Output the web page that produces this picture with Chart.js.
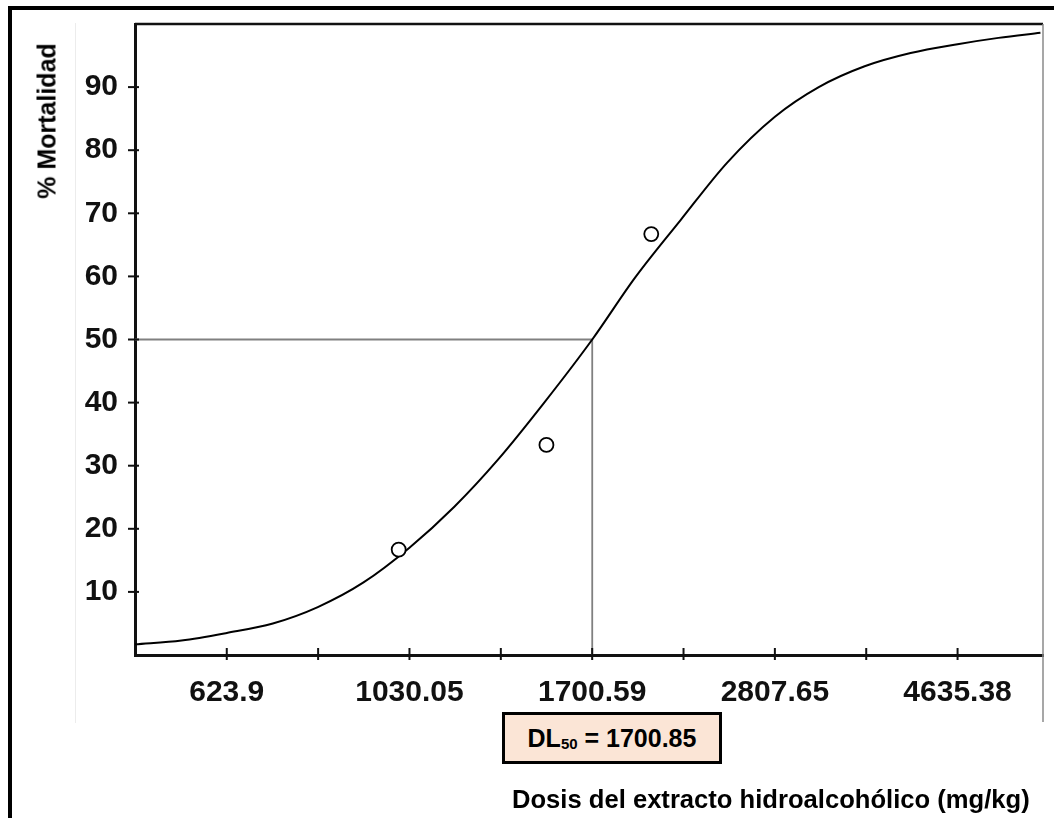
<!DOCTYPE html>
<html>
<head>
<meta charset="utf-8">
<script src="https://cdn.jsdelivr.net/npm/chart.js@4"></script>
<style>
  body { margin: 0; background: #fff; }
  #wrap { position: relative; width: 1054px; height: 818px; overflow: hidden; font-family: "Liberation Sans", Arial, sans-serif; }
  #box { position: absolute; left: 0; top: 0; width: 1054px; height: 818px; }
  .line { position: absolute; background: #000; }
  #ytitle { position: absolute; left: 47px; top: 121px; transform: translate(-50%, -50%) rotate(-90deg); font-weight: bold; font-size: 25px; white-space: nowrap; color: #000; }
  #xtitle { position: absolute; left: 512px; top: 787px; font-weight: bold; font-size: 25.6px; line-height: 25px; white-space: nowrap; color: #000; }
  #dl { position: absolute; left: 502px; top: 712px; width: 214px; height: 46px; border: 3px solid #000; background: #fbe5d6; font-weight: bold; font-size: 25px; line-height: 46px; text-align: center; color: #000; }
  #dl sub { font-size: 15px; vertical-align: -2px; }
</style>
</head>
<body>
<div id="wrap">
  <div id="box"><canvas id="chart"></canvas></div>
  <div class="line" style="left:8px;top:6px;width:1046px;height:4px;"></div>
  <div class="line" style="left:8px;top:6px;width:4px;height:812px;"></div>
  <div class="line" style="left:75px;top:23px;width:1px;height:700px;background:#ececec;"></div>
  <div id="ytitle">% Mortalidad</div>
  <div id="dl">DL<sub>50</sub> = 1700.85</div>
  <div id="xtitle">Dosis del extracto hidroalcohólico (mg/kg)</div>
</div>
<script>
// observed mortality
const doses = [1000, 1500, 2000];
const mortality = [16.7, 33.3, 66.7];

// fitted curve
const curveDose = [485, 551, 624, 708, 801, 908, 1030, 1165, 1314, 1491, 1701, 1913, 2170, 2462, 2808, 3167, 3592, 4075, 4635, 5186, 5819];
const curveMort = [1.7, 2.3, 3.5, 5.0, 7.6, 11.5, 17.0, 23.5, 31.0, 40.0, 50.0, 59.8, 69.0, 78.0, 85.3, 90.0, 93.3, 95.4, 96.8, 97.8, 98.6];

const dl50 = 1700.85;
const xTickLabels = ['623.9', '1030.05', '1700.59', '2807.65', '4635.38'];
const yTickValues = [10, 20, 30, 40, 50, 60, 70, 80, 90];
const xRange = [485, 5860];
const yRange = [0, 100];

// major ticks with a minor tick between each pair
const xTicks = [];
xTickLabels.forEach((lab, i) => {
  const v = Number(lab);
  xTicks.push({ value: v, label: lab });
  if (i < xTickLabels.length - 1) {
    xTicks.push({ value: Math.sqrt(v * Number(xTickLabels[i + 1])), label: '' });
  }
});

const tickFont = { family: '"Liberation Sans", Arial, sans-serif', size: 30, weight: 'bold' };

const crossTicks = {
  id: 'crossTicks',
  afterDraw(chart) {
    const { ctx, chartArea: a, scales: { x, y } } = chart;
    const seg = (x1, y1, x2, y2) => { ctx.beginPath(); ctx.moveTo(x1, y1); ctx.lineTo(x2, y2); ctx.stroke(); };
    ctx.save();
    ctx.strokeStyle = '#111';
    ctx.lineWidth = 2;
    y.ticks.forEach(t => { const p = y.getPixelForValue(t.value); seg(a.left - 7, p, a.left + 4, p); });
    x.ticks.forEach(t => { const p = x.getPixelForValue(t.value); seg(p, a.bottom - 7, p, a.bottom + 5); });
    ctx.lineWidth = 2.5;
    seg(a.left, a.top, a.right, a.top);
    ctx.strokeStyle = '#8a8a8a';
    ctx.lineWidth = 1.5;
    seg(a.right, a.top, a.right, 722);
    ctx.restore();
  }
};

new Chart(document.getElementById('chart'), {
  type: 'scatter',
  data: {
    datasets: [{
      label: 'Observado',
      data: doses.map((d, i) => ({ x: d, y: mortality[i] })),
      pointRadius: 7,
      pointBorderWidth: 1.8,
      pointBorderColor: '#000',
      pointBackgroundColor: '#fff',
      showLine: false
    }, {
      label: 'Probit',
      data: curveDose.map((d, i) => ({ x: d, y: curveMort[i] })),
      showLine: true,
      borderColor: '#000',
      borderWidth: 2,
      cubicInterpolationMode: 'monotone',
      pointRadius: 0
    }, {
      label: 'DL50',
      data: [{ x: xRange[0], y: 50 }, { x: dl50, y: 50 }, { x: dl50, y: yRange[0] }],
      showLine: true,
      borderColor: '#808080',
      borderWidth: 1.8,
      pointRadius: 0
    }]
  },
  options: {
    responsive: true,
    maintainAspectRatio: false,
    animation: false,
    events: [],
    layout: { padding: { left: 0, top: 24, right: 11, bottom: 0 } },
    plugins: {
      legend: { display: false },
      tooltip: { enabled: false }
    },
    scales: {
      x: {
        type: 'logarithmic',
        min: xRange[0],
        max: xRange[1],
        afterBuildTicks: (axis) => { axis.ticks = xTicks.map(t => ({ value: t.value })); },
        afterFit: (axis) => { axis.height = 163; axis.paddingLeft = 0; axis.paddingRight = 0; },
        grid: { display: false, drawTicks: false },
        border: { display: true, color: '#111', width: 3 },
        ticks: {
          autoSkip: false,
          maxRotation: 0,
          padding: 20,
          color: '#111',
          font: tickFont,
          callback: (v, i) => xTicks[i] ? xTicks[i].label : ''
        }
      },
      y: {
        min: yRange[0],
        max: yRange[1],
        afterBuildTicks: (axis) => { axis.ticks = yTickValues.map(v => ({ value: v })); },
        afterFit: (axis) => { axis.width = 135; axis.paddingTop = 0; axis.paddingBottom = 0; },
        grid: { display: false, drawTicks: false },
        border: { display: true, color: '#111', width: 3 },
        ticks: {
          padding: 17,
          color: '#111',
          font: tickFont,
          callback: (v) => String(v)
        }
      }
    }
  },
  plugins: [crossTicks]
});
</script>
</body>
</html>
